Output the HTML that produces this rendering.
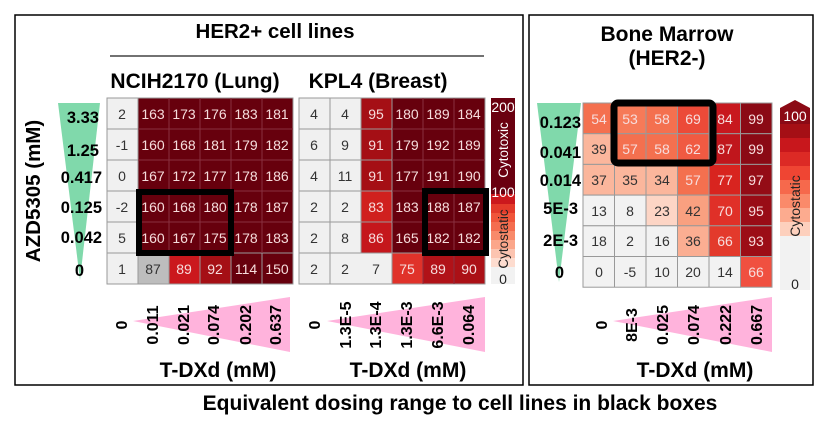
<!DOCTYPE html>
<html><head><meta charset="utf-8"><style>
html,body{margin:0;padding:0;background:#fff;}
svg{display:block;font-family:"Liberation Sans",sans-serif;}
.b{font-weight:bold;fill:#000;}
.c{font-size:14px;text-anchor:middle;}
.w{fill:#f6dcdc;}
.k{fill:#333;}
</style></head><body>
<svg width="828" height="427" viewBox="0 0 828 427" xmlns="http://www.w3.org/2000/svg">
<rect width="828" height="427" fill="#fff"/>
<rect x="15" y="15" width="508" height="370" fill="none" stroke="#000" stroke-width="1.5"/>
<rect x="529" y="15" width="284" height="370" fill="none" stroke="#000" stroke-width="1.5"/>
<text x="275" y="38" class="b" font-size="20.5" text-anchor="middle">HER2+ cell lines</text>
<line x1="110" y1="56" x2="484" y2="56" stroke="#444" stroke-width="1.5"/>
<text x="195" y="88" class="b" font-size="21" text-anchor="middle">NCIH2170 (Lung)</text>
<text x="378" y="88" class="b" font-size="21" text-anchor="middle">KPL4 (Breast)</text>
<text x="667" y="41" class="b" font-size="21" text-anchor="middle">Bone Marrow</text>
<text x="667" y="65" class="b" font-size="21" text-anchor="middle">(HER2-)</text>
<text x="460" y="410" class="b" font-size="21" text-anchor="middle">Equivalent dosing range to cell lines in black boxes</text>
<text transform="translate(40,191) rotate(-90)" class="b" font-size="20.5" text-anchor="middle">AZD5305 (mM)</text>

<polygon points="58,103 100,103 80,280" fill="#80d9ab"/>
<polygon points="537,103 581,103 559,282" fill="#80d9ab"/>
<g class="b" font-size="16.5" text-anchor="end">
<text x="99" y="123">3.33</text><text x="99" y="156">1.25</text><text x="102" y="183">0.417</text>
<text x="102" y="213">0.125</text><text x="102" y="243">0.042</text><text x="84" y="276">0</text>
<text x="581" y="128">0.123</text><text x="581" y="158">0.041</text><text x="581" y="186">0.014</text>
<text x="578" y="214">5E-3</text><text x="578" y="246">2E-3</text><text x="564" y="278">0</text>
</g>

<g stroke="#999" stroke-width="1">
<rect x="107" y="98" width="31" height="31" fill="#f0f0f0"/><rect x="138" y="98" width="155" height="155" fill="#67000d"/>
<rect x="107" y="129" width="31" height="31" fill="#f0f0f0"/>
<rect x="107" y="160" width="31" height="31" fill="#f0f0f0"/>
<rect x="107" y="191" width="31" height="31" fill="#f0f0f0"/>
<rect x="107" y="222" width="31" height="31" fill="#f0f0f0"/>
<rect x="107" y="253" width="31" height="31" fill="#f0f0f0"/>
<rect x="138" y="253" width="31" height="31" fill="#bdbdbd"/>
<rect x="169" y="253" width="31" height="31" fill="#cb181d"/>
<rect x="200" y="253" width="31" height="31" fill="#a50f15"/>
<rect x="231" y="253" width="31" height="31" fill="#67000d"/>
<rect x="262" y="253" width="31" height="31" fill="#67000d"/>
</g>
<g stroke="#8a3040" stroke-width="1" fill="none">
<path d="M138 129H293M138 160H293M138 191H293M138 222H293M169 98V253M200 98V253M231 98V253M262 98V253"/>
</g>
<g class="c">
<text x="122" y="119" class="k">2</text><text x="153" y="119" class="w">163</text><text x="184" y="119" class="w">173</text><text x="215" y="119" class="w">176</text><text x="246" y="119" class="w">183</text><text x="277" y="119" class="w">181</text>
<text x="122" y="150" class="k">-1</text><text x="153" y="150" class="w">160</text><text x="184" y="150" class="w">168</text><text x="215" y="150" class="w">181</text><text x="246" y="150" class="w">179</text><text x="277" y="150" class="w">182</text>
<text x="122" y="181" class="k">0</text><text x="153" y="181" class="w">167</text><text x="184" y="181" class="w">172</text><text x="215" y="181" class="w">177</text><text x="246" y="181" class="w">178</text><text x="277" y="181" class="w">186</text>
<text x="122" y="212" class="k">-2</text><text x="153" y="212" class="w">160</text><text x="184" y="212" class="w">168</text><text x="215" y="212" class="w">180</text><text x="246" y="212" class="w">178</text><text x="277" y="212" class="w">187</text>
<text x="122" y="243" class="k">5</text><text x="153" y="243" class="w">160</text><text x="184" y="243" class="w">167</text><text x="215" y="243" class="w">175</text><text x="246" y="243" class="w">178</text><text x="277" y="243" class="w">183</text>
<text x="122" y="274" class="k">1</text><text x="153" y="274" class="k">87</text><text x="184" y="274" class="w">89</text><text x="215" y="274" class="w">92</text><text x="246" y="274" class="w">114</text><text x="277" y="274" class="w">150</text>
</g>
<rect x="139" y="192" width="92" height="61" fill="none" stroke="#000" stroke-width="6"/>

<g stroke="#999" stroke-width="1">
<rect x="299" y="98" width="62" height="155" fill="#f0f0f0"/>
<rect x="299" y="253" width="93" height="31" fill="#f0f0f0"/>
<rect x="361" y="98" width="31" height="93" fill="#a50f15"/>
<rect x="361" y="191" width="31" height="31" fill="#d0201e"/>
<rect x="361" y="222" width="31" height="31" fill="#c5171c"/>
<rect x="392" y="98" width="93" height="155" fill="#67000d"/>
<rect x="392" y="253" width="31" height="31" fill="#e0322a"/>
<rect x="423" y="253" width="31" height="31" fill="#b11218"/>
<rect x="454" y="253" width="31" height="31" fill="#ab1016"/>
</g>
<g stroke="#999" fill="none"><path d="M330 98V284M299 129H361M299 160H361M299 191H361M299 222H361M361 160H392M299 253H392M361 129H392M361 191H392"/></g>
<g stroke="#8a3040" fill="none"><path d="M392 129H485M392 160H485M392 191H485M392 222H485M423 98V253M454 98V253M423 253V284M454 253V284"/></g>
<g class="c">
<text x="314" y="119" class="k">4</text><text x="345" y="119" class="k">4</text><text x="376" y="119" class="w">95</text><text x="407" y="119" class="w">180</text><text x="438" y="119" class="w">189</text><text x="469" y="119" class="w">184</text>
<text x="314" y="150" class="k">6</text><text x="345" y="150" class="k">9</text><text x="376" y="150" class="w">91</text><text x="407" y="150" class="w">179</text><text x="438" y="150" class="w">192</text><text x="469" y="150" class="w">189</text>
<text x="314" y="181" class="k">4</text><text x="345" y="181" class="k">11</text><text x="376" y="181" class="w">91</text><text x="407" y="181" class="w">177</text><text x="438" y="181" class="w">191</text><text x="469" y="181" class="w">190</text>
<text x="314" y="212" class="k">2</text><text x="345" y="212" class="k">2</text><text x="376" y="212" class="w">83</text><text x="407" y="212" class="w">183</text><text x="438" y="212" class="w">188</text><text x="469" y="212" class="w">187</text>
<text x="314" y="243" class="k">2</text><text x="345" y="243" class="k">8</text><text x="376" y="243" class="w">86</text><text x="407" y="243" class="w">165</text><text x="438" y="243" class="w">182</text><text x="469" y="243" class="w">182</text>
<text x="314" y="274" class="k">2</text><text x="345" y="274" class="k">2</text><text x="376" y="274" class="k">7</text><text x="407" y="274" class="w">75</text><text x="438" y="274" class="w">89</text><text x="469" y="274" class="w">90</text>
</g>
<rect x="425" y="191" width="61" height="62" fill="none" stroke="#000" stroke-width="6"/>

<rect x="491" y="98" width="24" height="96" fill="#6a0010"/>
<rect x="491" y="194" width="24" height="10" fill="#cb181d"/>
<rect x="491" y="204" width="24" height="9" fill="#e33a2a"/>
<rect x="491" y="213" width="24" height="9" fill="#f0553a"/>
<rect x="491" y="222" width="24" height="9" fill="#f46d4f"/>
<rect x="491" y="231" width="24" height="9" fill="#f88a6a"/>
<rect x="491" y="240" width="24" height="9" fill="#fba68a"/>
<rect x="491" y="249" width="24" height="9" fill="#fcc4b0"/>
<rect x="491" y="258" width="24" height="9" fill="#fddccf"/>
<rect x="491" y="267" width="24" height="17" fill="#f2f2f2"/>
<text x="503" y="112" font-size="14" fill="#fff" text-anchor="middle">200</text>
<text transform="translate(508,150) rotate(-90)" font-size="13.5" fill="#fff" text-anchor="middle">Cytotoxic</text>
<text x="503" y="197" font-size="14" fill="#fff" text-anchor="middle">100</text>
<text transform="translate(508,239) rotate(-90)" font-size="13.5" fill="#222" text-anchor="middle">Cytostatic</text>
<text x="503" y="284" font-size="14" fill="#222" text-anchor="middle">0</text>

<g stroke="#999" stroke-width="1">
<rect x="583" y="103" width="31.5" height="30.7" fill="#f4704f"/>
<rect x="614.5" y="103" width="31.5" height="30.7" fill="#f67a58"/>
<rect x="646" y="103" width="31.5" height="30.7" fill="#f4704f"/>
<rect x="677.5" y="103" width="31.5" height="30.7" fill="#ec4a38"/>
<rect x="709" y="103" width="31.5" height="30.7" fill="#c8181e"/>
<rect x="740.5" y="103" width="31.5" height="30.7" fill="#8b0a15"/>
<rect x="583" y="133.7" width="31.5" height="30.7" fill="#fbb69c"/>
<rect x="614.5" y="133.7" width="31.5" height="30.7" fill="#f4704f"/>
<rect x="646" y="133.7" width="31.5" height="30.7" fill="#f4704f"/>
<rect x="677.5" y="133.7" width="31.5" height="30.7" fill="#f05a42"/>
<rect x="709" y="133.7" width="31.5" height="30.7" fill="#c0161c"/>
<rect x="740.5" y="133.7" width="31.5" height="30.7" fill="#8b0a15"/>
<rect x="583" y="164.4" width="31.5" height="30.7" fill="#fbb69c"/>
<rect x="614.5" y="164.4" width="31.5" height="30.7" fill="#fbb69c"/>
<rect x="646" y="164.4" width="31.5" height="30.7" fill="#fbb69c"/>
<rect x="677.5" y="164.4" width="31.5" height="30.7" fill="#f4704f"/>
<rect x="709" y="164.4" width="31.5" height="30.7" fill="#d8241f"/>
<rect x="740.5" y="164.4" width="31.5" height="30.7" fill="#940c16"/>
<rect x="583" y="195.1" width="31.5" height="30.7" fill="#f2f2f2"/>
<rect x="614.5" y="195.1" width="31.5" height="30.7" fill="#f2f2f2"/>
<rect x="646" y="195.1" width="31.5" height="30.7" fill="#fdd5c5"/>
<rect x="677.5" y="195.1" width="31.5" height="30.7" fill="#f9a080"/>
<rect x="709" y="195.1" width="31.5" height="30.7" fill="#e03028"/>
<rect x="740.5" y="195.1" width="31.5" height="30.7" fill="#990c16"/>
<rect x="583" y="225.8" width="31.5" height="30.7" fill="#f2f2f2"/>
<rect x="614.5" y="225.8" width="31.5" height="30.7" fill="#f2f2f2"/>
<rect x="646" y="225.8" width="31.5" height="30.7" fill="#f2f2f2"/>
<rect x="677.5" y="225.8" width="31.5" height="30.7" fill="#fbae92"/>
<rect x="709" y="225.8" width="31.5" height="30.7" fill="#e33a2c"/>
<rect x="740.5" y="225.8" width="31.5" height="30.7" fill="#9c0d16"/>
<rect x="583" y="256.5" width="157.5" height="30.7" fill="#f2f2f2"/>
<rect x="740.5" y="256.5" width="31.5" height="30.7" fill="#f05040"/>
</g>
<g stroke="#999" fill="none"><path d="M614.5 256.5V287.2M646 256.5V287.2M677.5 256.5V287.2M709 256.5V287.2"/></g>
<g class="c">
<text x="599" y="124" class="w">54</text><text x="630" y="124" class="w">53</text><text x="662" y="124" class="w">58</text><text x="693" y="124" class="w">69</text><text x="725" y="124" class="w">84</text><text x="756" y="124" class="w">99</text>
<text x="599" y="154" class="k">39</text><text x="630" y="154" class="w">57</text><text x="662" y="154" class="w">58</text><text x="693" y="154" class="w">62</text><text x="725" y="154" class="w">87</text><text x="756" y="154" class="w">99</text>
<text x="599" y="185" class="k">37</text><text x="630" y="185" class="k">35</text><text x="662" y="185" class="k">34</text><text x="693" y="185" class="w">57</text><text x="725" y="185" class="w">77</text><text x="756" y="185" class="w">97</text>
<text x="599" y="216" class="k">13</text><text x="630" y="216" class="k">8</text><text x="662" y="216" class="k">23</text><text x="693" y="216" class="k">42</text><text x="725" y="216" class="w">70</text><text x="756" y="216" class="w">95</text>
<text x="599" y="246" class="k">18</text><text x="630" y="246" class="k">2</text><text x="662" y="246" class="k">16</text><text x="693" y="246" class="k">36</text><text x="725" y="246" class="w">66</text><text x="756" y="246" class="w">93</text>
<text x="599" y="277" class="k">0</text><text x="630" y="277" class="k">-5</text><text x="662" y="277" class="k">10</text><text x="693" y="277" class="k">20</text><text x="725" y="277" class="k">14</text><text x="756" y="277" class="w">66</text>
</g>
<rect x="614" y="103" width="99" height="60" rx="4" fill="none" stroke="#000" stroke-width="7"/>

<polygon points="780,108 795,100 810,108 810,124 780,124" fill="#8b0a15"/>
<rect x="780" y="124" width="30" height="14" fill="#a50f15"/>
<rect x="780" y="138" width="30" height="14" fill="#c8171c"/>
<rect x="780" y="152" width="30" height="14" fill="#dc2a25"/>
<rect x="780" y="166" width="30" height="14" fill="#ef4533"/>
<rect x="780" y="180" width="30" height="14" fill="#f6694c"/>
<rect x="780" y="194" width="30" height="14" fill="#fa8a6a"/>
<rect x="780" y="208" width="30" height="14" fill="#fcab8f"/>
<rect x="780" y="222" width="30" height="14" fill="#fdd0bd"/>
<rect x="780" y="236" width="30" height="54" fill="#f2f2f2"/>
<text x="795" y="121" font-size="14" fill="#fff" text-anchor="middle">100</text>
<text transform="translate(800,206) rotate(-90)" font-size="14" fill="#222" text-anchor="middle">Cytostatic</text>
<text x="795" y="289" font-size="14" fill="#222" text-anchor="middle">0</text>

<polygon points="133,321 290,297 290,352" fill="#ffb3dc"/>
<polygon points="327,321 485,297 485,352" fill="#ffb3dc"/>
<polygon points="613,321 772,297 772,352" fill="#ffb3dc"/>
<g class="b" font-size="16" text-anchor="middle">
<text transform="translate(127,325) rotate(-90)">0</text>
<text transform="translate(158,325) rotate(-90)">0.011</text>
<text transform="translate(189,325) rotate(-90)">0.021</text>
<text transform="translate(219,325) rotate(-90)">0.074</text>
<text transform="translate(251,325) rotate(-90)">0.202</text>
<text transform="translate(281,325) rotate(-90)">0.637</text>
<text transform="translate(320,325) rotate(-90)">0</text>
<text transform="translate(351,325) rotate(-90)">1.3E-5</text>
<text transform="translate(381,325) rotate(-90)">1.3E-4</text>
<text transform="translate(412,325) rotate(-90)">1.3E-3</text>
<text transform="translate(443,325) rotate(-90)">6.6E-3</text>
<text transform="translate(474,325) rotate(-90)">0.064</text>
<text transform="translate(607,325) rotate(-90)">0</text>
<text transform="translate(637,325) rotate(-90)">8E-3</text>
<text transform="translate(668,325) rotate(-90)">0.025</text>
<text transform="translate(699,325) rotate(-90)">0.074</text>
<text transform="translate(731,325) rotate(-90)">0.222</text>
<text transform="translate(762,325) rotate(-90)">0.667</text>
</g>
<g class="b" font-size="21" text-anchor="middle">
<text x="218" y="377">T-DXd (mM)</text>
<text x="408" y="377">T-DXd (mM)</text>
<text x="695" y="377">T-DXd (mM)</text>
</g>
</svg>
</body></html>
